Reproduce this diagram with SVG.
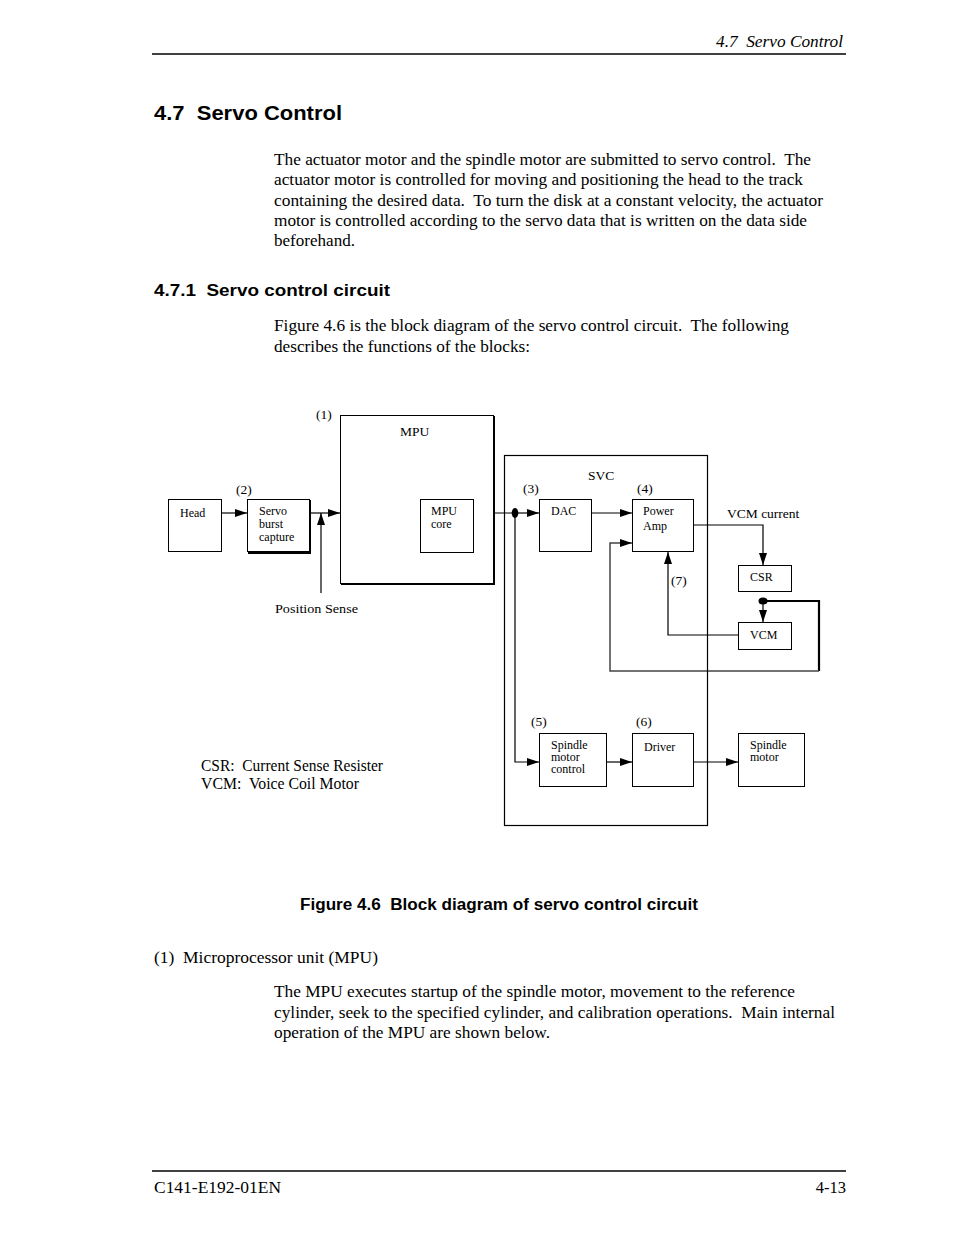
<svg xmlns="http://www.w3.org/2000/svg" width="954" height="1235" viewBox="0 0 954 1235">
<style>
text{white-space:pre}
.body{font-family:"Liberation Serif","Times New Roman",serif;font-size:16.5px;fill:#000}
.hd{font-family:"Liberation Sans",Arial,sans-serif;font-weight:bold;fill:#000}
.lbl{font-family:"Liberation Serif","Times New Roman",serif;font-size:12px;fill:#000}
.mid{font-family:"Liberation Serif","Times New Roman",serif;font-size:13.5px;fill:#000}
.box{fill:#fff;stroke:#000;stroke-width:1}
.ln{fill:none;stroke:#000;stroke-width:1.2}
</style>
<defs>
<marker id="ah" markerUnits="userSpaceOnUse" markerWidth="12" markerHeight="8" refX="12" refY="4" orient="auto">
<path d="M0,0 L12,4 L0,8 z" fill="#000"/>
</marker>
</defs>
<rect width="954" height="1235" fill="#fff"/>

<!-- page header -->
<text x="843" y="47" text-anchor="end" font-family="Liberation Serif, serif" font-style="italic" font-size="16" textLength="127" lengthAdjust="spacingAndGlyphs">4.7  Servo Control</text>
<line x1="152" y1="54" x2="846" y2="54" stroke="#000" stroke-width="1.3"/>
<text class="hd" x="154" y="120" font-size="21" textLength="188" lengthAdjust="spacingAndGlyphs">4.7  Servo Control</text>
<text class="body" x="274" y="165" textLength="537" lengthAdjust="spacingAndGlyphs">The actuator motor and the spindle motor are submitted to servo control.  The</text>
<text class="body" x="274" y="185" textLength="529" lengthAdjust="spacingAndGlyphs">actuator motor is controlled for moving and positioning the head to the track</text>
<text class="body" x="274" y="206" textLength="549" lengthAdjust="spacingAndGlyphs">containing the desired data.  To turn the disk at a constant velocity, the actuator</text>
<text class="body" x="274" y="226" textLength="533" lengthAdjust="spacingAndGlyphs">motor is controlled according to the servo data that is written on the data side</text>
<text class="body" x="274" y="246" textLength="81" lengthAdjust="spacingAndGlyphs">beforehand.</text>
<text class="hd" x="154" y="296" font-size="17" textLength="236" lengthAdjust="spacingAndGlyphs">4.7.1  Servo control circuit</text>
<text class="body" x="274" y="331" textLength="515" lengthAdjust="spacingAndGlyphs">Figure 4.6 is the block diagram of the servo control circuit.  The following</text>
<text class="body" x="274" y="352" textLength="256" lengthAdjust="spacingAndGlyphs">describes the functions of the blocks:</text>

<!-- connectors -->
<g id="connectors">
<path class="ln" d="M221,513 H247" marker-end="url(#ah)"/>
<path class="ln" d="M310,513 H340" marker-end="url(#ah)"/>
<path class="ln" d="M321,593 V513" marker-end="url(#ah)"/>
<path class="ln" d="M340,513 H420" marker-end="url(#ah)"/>
<path class="ln" d="M473,513 H515"/>
<path class="ln" d="M515,513 H539" marker-end="url(#ah)"/>
<path class="ln" d="M591,513 H632" marker-end="url(#ah)"/>
<path class="ln" d="M694,525 H763 V565" marker-end="url(#ah)"/>
<path class="ln" d="M763,601 V622" marker-end="url(#ah)"/>
<path class="ln" d="M738,635 H668 V552" marker-end="url(#ah)"/>
<path d="M763,601 H819 V671" fill="none" stroke="#000" stroke-width="2.2"/>
<path d="M819,671 H610 V543 H632" fill="none" stroke="#444" stroke-width="1.5" marker-end="url(#ah)"/>
<path class="ln" d="M515,513 V762 H539" marker-end="url(#ah)"/>
<path class="ln" d="M607,762 H632" marker-end="url(#ah)"/>
<path class="ln" d="M694,762 H738" marker-end="url(#ah)"/>
<ellipse cx="515" cy="513" rx="3.3" ry="5" fill="#000"/>
<ellipse cx="763" cy="601" rx="4.5" ry="3.5" fill="#000"/>
</g>

<!-- nodes -->
<g id="mpu">
<rect class="box" x="340.5" y="415.5" width="153" height="168" fill="none"/>
<path d="M494,416 V584 H341" fill="none" stroke="#000" stroke-width="2"/>
<text class="mid" x="400" y="436" font-size="15">MPU</text>
<text class="mid" x="316" y="419" font-size="12.5">(1)</text>
</g>
<g id="svc">
<rect x="504.5" y="455.5" width="203" height="370" fill="none" stroke="#000" stroke-width="1.2"/>
<text class="mid" x="588" y="480" font-size="15">SVC</text>
</g>
<g id="head">
<rect class="box" x="168.5" y="499.5" width="53" height="52"/>
<text class="lbl" x="180" y="517">Head</text>
</g>
<g id="servo-burst">
<rect class="box" x="247.5" y="499.5" width="62" height="52"/>
<path d="M310,500 V553 H248" fill="none" stroke="#000" stroke-width="2"/>
<text class="lbl" x="259" y="515">Servo</text>
<text class="lbl" x="259" y="528">burst</text>
<text class="lbl" x="259" y="541">capture</text>
<text class="mid" x="236" y="494" font-size="12.5">(2)</text>
</g>
<g id="mpu-core">
<rect class="box" x="420.5" y="499.5" width="53" height="53"/>
<text class="lbl" x="431" y="515">MPU</text>
<text class="lbl" x="431" y="528">core</text>
</g>
<g id="dac">
<rect class="box" x="539.5" y="499.5" width="52" height="52"/>
<text class="lbl" x="551" y="515">DAC</text>
<text class="mid" x="523" y="493" font-size="12.5">(3)</text>
</g>
<g id="power-amp">
<rect class="box" x="632.5" y="499.5" width="61" height="52"/>
<text class="lbl" x="643" y="515">Power</text>
<text class="lbl" x="643" y="530">Amp</text>
<text class="mid" x="637" y="493" font-size="12.5">(4)</text>
</g>
<text class="mid" x="727" y="518" font-size="13.8">VCM current</text>
<text class="mid" x="671" y="585" font-size="12.5">(7)</text>
<g id="csr">
<rect class="box" x="738.5" y="565.5" width="53" height="26"/>
<text class="lbl" x="750" y="581">CSR</text>
</g>
<g id="vcm">
<rect class="box" x="738.5" y="622.5" width="53" height="27"/>
<text class="lbl" x="750" y="639">VCM</text>
</g>
<g id="position-sense">
<text class="mid" x="275" y="613" font-size="13" textLength="83" lengthAdjust="spacingAndGlyphs">Position Sense</text>
</g>
<g id="spindle-control">
<rect class="box" x="539.5" y="733.5" width="67" height="53"/>
<text class="lbl" x="551" y="749">Spindle</text>
<text class="lbl" x="551" y="761">motor</text>
<text class="lbl" x="551" y="773">control</text>
<text class="mid" x="531" y="726" font-size="12.5">(5)</text>
</g>
<g id="driver">
<rect class="box" x="632.5" y="733.5" width="61" height="53"/>
<text class="lbl" x="644" y="751">Driver</text>
<text class="mid" x="636" y="726" font-size="12.5">(6)</text>
</g>
<g id="spindle-motor">
<rect class="box" x="738.5" y="733.5" width="66" height="53"/>
<text class="lbl" x="750" y="749">Spindle</text>
<text class="lbl" x="750" y="761">motor</text>
</g>
<g id="legend">
<text class="body" x="201" y="771" font-size="15" textLength="182" lengthAdjust="spacingAndGlyphs">CSR:  Current Sense Resister</text>
<text class="body" x="201" y="789" font-size="15" textLength="158" lengthAdjust="spacingAndGlyphs">VCM:  Voice Coil Motor</text>
</g>

<text class="hd" x="300" y="910" font-size="16" textLength="398" lengthAdjust="spacingAndGlyphs">Figure 4.6  Block diagram of servo control circuit</text>
<text class="body" x="154" y="963" textLength="224" lengthAdjust="spacingAndGlyphs">(1)  Microprocessor unit (MPU)</text>
<text class="body" x="274" y="997" textLength="521" lengthAdjust="spacingAndGlyphs">The MPU executes startup of the spindle motor, movement to the reference</text>
<text class="body" x="274" y="1018" textLength="561" lengthAdjust="spacingAndGlyphs">cylinder, seek to the specified cylinder, and calibration operations.  Main internal</text>
<text class="body" x="274" y="1038" textLength="276" lengthAdjust="spacingAndGlyphs">operation of the MPU are shown below.</text>

<line x1="152" y1="1171" x2="846" y2="1171" stroke="#000" stroke-width="1.5"/>
<text class="body" x="154" y="1193" textLength="127" lengthAdjust="spacingAndGlyphs">C141-E192-01EN</text>
<text class="body" x="846" y="1193" text-anchor="end">4-13</text>
</svg>
